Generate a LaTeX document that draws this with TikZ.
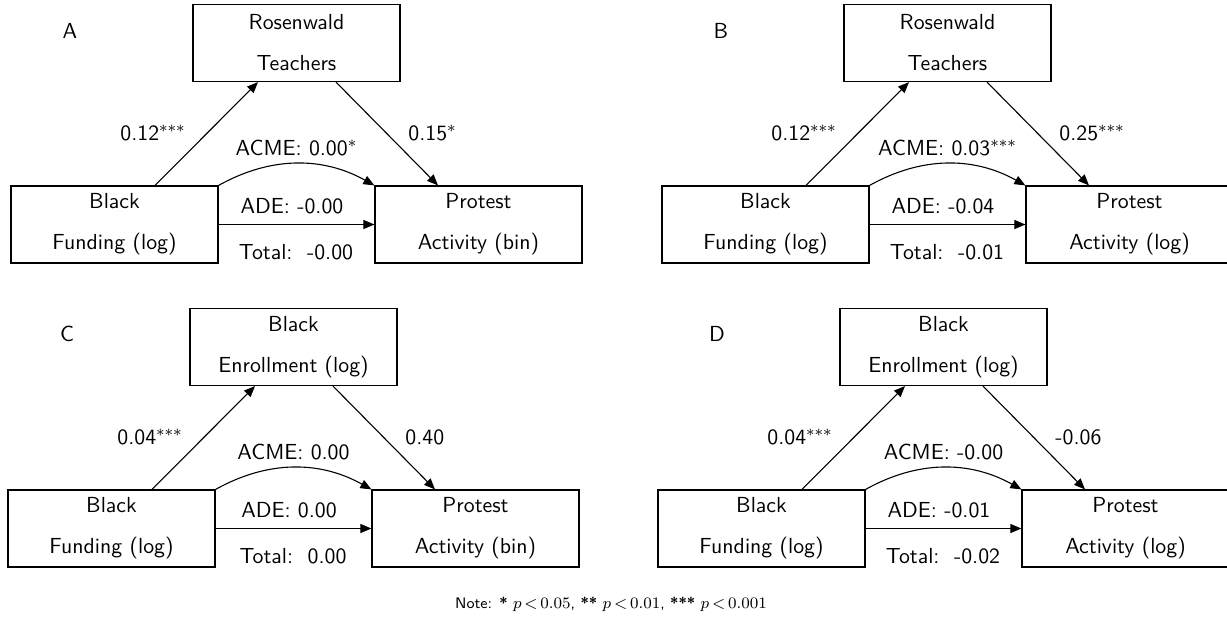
\documentclass[tikz,border=0pt]{standalone}
\usetikzlibrary{arrows.meta,calc}
\tikzset{
  box/.style={draw, line width=0.6pt, minimum width=103.5pt, minimum height=38.5pt,
    inner sep=0pt, align=center, font=\sffamily\fontsize{10.9}{20.5}\selectfont},
  lab/.style={font=\sffamily\fontsize{10.9}{13}\selectfont, inner sep=0pt},
  arr/.style={line width=0.55pt, -{Triangle[length=5.5pt,width=4.5pt]}},
}
\begin{document}
\begin{tikzpicture}[x=0.5pt,y=-0.5pt]
\useasboundingbox (0,0) rectangle (1227,617);
% ---------- Panel A ----------
\begin{scope}[shift={(0,0)}]
\node[lab] (lA) at (70,31) {A};
\node[box] (mA) at (296.5,43) {Rosenwald\\Teachers};
\node[box] (fA) at (114.5,224.5) {Black\\Funding (log)};
\node[box] (oA) at (478.5,224.5) {Protest\\Activity (bin)};
\draw[arr] ($(fA.north)+(40.5,0)$) -- ($(mA.south)+(-38.5,0)$);
\draw[arr] ($(mA.south)+(39.5,0)$) -- ($(oA.north)+(-40.5,0)$);
\draw[arr] (fA.north east) .. controls ($(fA.north east)+(52,-29)$) and ($(oA.north west)+(-52,-29)$) .. (oA.north west);
\draw[arr] (fA.east) -- (oA.west);
\node[lab, anchor=base west] (cA1) at (120,140) {0.12$^{***}$};
\node[lab, anchor=base west] (cA2) at (408,140) {0.15$^{*}$};
\node[lab, anchor=base] (acA) at (296.5,155) {ACME: 0.00$^{*}$};
\node[lab, anchor=base] (adA) at (292,213) {ADE: -0.00};
\node[lab, anchor=base] (toA) at (296,259) {Total:\ \ -0.00};
\end{scope}
% ---------- Panel B ----------
\begin{scope}[shift={(651,0)}]
\node[lab] (lB) at (70,31) {B};
\node[box] (mB) at (296.5,43) {Rosenwald\\Teachers};
\node[box] (fB) at (114.5,224.5) {Black\\Funding (log)};
\node[box] (oB) at (478.5,224.5) {Protest\\Activity (log)};
\draw[arr] ($(fB.north)+(40.5,0)$) -- ($(mB.south)+(-38.5,0)$);
\draw[arr] ($(mB.south)+(39.5,0)$) -- ($(oB.north)+(-40.5,0)$);
\draw[arr] (fB.north east) .. controls ($(fB.north east)+(52,-29)$) and ($(oB.north west)+(-52,-29)$) .. (oB.north west);
\draw[arr] (fB.east) -- (oB.west);
\node[lab, anchor=base west] (cB1) at (120,140) {0.12$^{***}$};
\node[lab, anchor=base west] (cB2) at (408,140) {0.25$^{***}$};
\node[lab, anchor=base] (acB) at (296.5,155) {ACME: 0.03$^{***}$};
\node[lab, anchor=base] (adB) at (292,213) {ADE: -0.04};
\node[lab, anchor=base] (toB) at (296,259) {Total:\ \ -0.01};
\end{scope}
% ---------- Panel C ----------
\begin{scope}[shift={(-3,304)}]
\node[lab] (lC) at (70,30) {C};
\node[box] (mC) at (296.5,43) {Black\\Enrollment (log)};
\node[box] (fC) at (114.5,224.5) {Black\\Funding (log)};
\node[box] (oC) at (478.5,224.5) {Protest\\Activity (bin)};
\draw[arr] ($(fC.north)+(40.5,0)$) -- ($(mC.south)+(-38.5,0)$);
\draw[arr] ($(mC.south)+(39.5,0)$) -- ($(oC.north)+(-40.5,0)$);
\draw[arr] (fC.north east) .. controls ($(fC.north east)+(52,-29)$) and ($(oC.north west)+(-52,-29)$) .. (oC.north west);
\draw[arr] (fC.east) -- (oC.west);
\node[lab, anchor=base west] (cC1) at (120,140) {0.04$^{***}$};
\node[lab, anchor=base west] (cC2) at (408,140) {0.40};
\node[lab, anchor=base] (acC) at (296.5,155) {ACME: 0.00};
\node[lab, anchor=base] (adC) at (292,213) {ADE: 0.00};
\node[lab, anchor=base] (toC) at (296,259) {Total:\ \ 0.00};
\end{scope}
% ---------- Panel D ----------
\begin{scope}[shift={(647,304)}]
\node[lab] (lD) at (70,30) {D};
\node[box] (mD) at (296.5,43) {Black\\Enrollment (log)};
\node[box] (fD) at (114.5,224.5) {Black\\Funding (log)};
\node[box] (oD) at (478.5,224.5) {Protest\\Activity (log)};
\draw[arr] ($(fD.north)+(40.5,0)$) -- ($(mD.south)+(-38.5,0)$);
\draw[arr] ($(mD.south)+(39.5,0)$) -- ($(oD.north)+(-40.5,0)$);
\draw[arr] (fD.north east) .. controls ($(fD.north east)+(52,-29)$) and ($(oD.north west)+(-52,-29)$) .. (oD.north west);
\draw[arr] (fD.east) -- (oD.west);
\node[lab, anchor=base west] (cD1) at (120,140) {0.04$^{***}$};
\node[lab, anchor=base west] (cD2) at (408,140) {-0.06};
\node[lab, anchor=base] (acD) at (296.5,155) {ACME: -0.00};
\node[lab, anchor=base] (adD) at (292,213) {ADE: -0.01};
\node[lab, anchor=base] (toD) at (296,259) {Total:\ \ -0.02};
\end{scope}
% ---------- Note ----------
\node[font=\sffamily\fontsize{7.6}{9.5}\selectfont, inner sep=0pt, anchor=base] (note) at (611,608)
  {\thickmuskip=3mu Note: \textbf{*} $p<0.05$, \textbf{**} $p<0.01$, \textbf{***} $p<0.001$};
\end{tikzpicture}
\end{document}
